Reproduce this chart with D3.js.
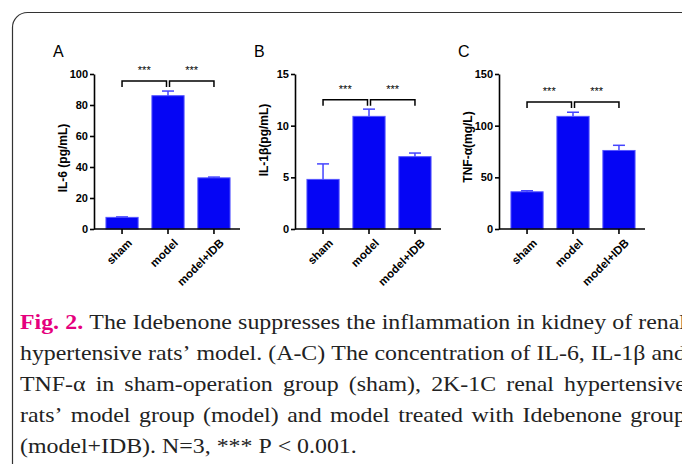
<!DOCTYPE html>
<html>
<head>
<meta charset="utf-8">
<script src="https://d3js.org/d3.v7.min.js"></script>
<style>
body { margin: 0; background: #fff; }
svg { display: block; }
.tick text { font-family: "Liberation Sans", Arial, sans-serif; font-weight: bold; font-size: 11px; fill: #000; }
</style>
</head>
<body>
<script>
// data
const groups = ["sham", "model", "model+IDB"];
const il6 = [7.5, 86, 33];
const il6Err = [0.3, 3, 0.5];
const il1b = [4.8, 10.9, 7.0];
const il1bErr = [1.5, 0.7, 0.35];
const tnf = [36, 109, 76];
const tnfErr = [1, 4, 5];
const il6Ticks = [0, 20, 40, 60, 80, 100];
const il1bTicks = [0, 5, 10, 15];
const tnfTicks = [0, 50, 100, 150];
const sigLevel = [95.5, 12.5, 123];
const captionLines = [
  "The Idebenone suppresses the inflammation in kidney of renal",
  "hypertensive rats’ model. (A-C) The concentration of IL-6, IL-1β and",
  "TNF-α in sham-operation group (sham), 2K-1C renal hypertensive",
  "rats’ model group (model) and model treated with Idebenone group",
  "(model+IDB). N=3, *** P < 0.001."
];

const W = 682, H = 464;
const svg = d3.select("body").append("svg").attr("width", W).attr("height", H);

// rounded frame, runs off the right and bottom
svg.append("rect")
  .attr("x", 12.5).attr("y", 12.5)
  .attr("width", 720).attr("height", 500)
  .attr("rx", 15)
  .attr("fill", "none").attr("stroke", "#333").attr("stroke-width", 1.2);

const panels = [
  {letter: "A", x0: 94, vals: il6, errs: il6Err, ticks: il6Ticks, max: 100, label: "IL-6 (pg/mL)", labelY: 158, sig: sigLevel[0]},
  {letter: "B", x0: 295, vals: il1b, errs: il1bErr, ticks: il1bTicks, max: 15, label: "IL-1β(pg/mL)", labelY: 140, sig: sigLevel[1]},
  {letter: "C", x0: 499, vals: tnf, errs: tnfErr, ticks: tnfTicks, max: 150, label: "TNF-α(mg/L)", labelY: 147, sig: sigLevel[2]}
];

const yTop = 74, yBot = 229;
const sans = "Liberation Sans, Arial, sans-serif";

panels.forEach(p => {
  const g = svg.append("g");
  const x = d3.scaleBand().domain(groups).range([p.x0, p.x0 + 148]).paddingInner(0.3).paddingOuter(0.26);
  const y = d3.scaleLinear().domain([0, p.max]).range([yBot, yTop]);
  const cx = d => x(d) + x.bandwidth() / 2;

  // bars
  g.selectAll("rect.bar").data(groups).enter().append("rect")
    .attr("class", "bar")
    .attr("x", d => x(d))
    .attr("y", (d, i) => y(p.vals[i]))
    .attr("width", x.bandwidth())
    .attr("height", (d, i) => yBot - y(p.vals[i]))
    .attr("fill", "#0505f5")
    .attr("stroke", "#5555ff").attr("stroke-width", 1);

  // error bars (upper only)
  const eb = g.selectAll("g.err").data(groups).enter().append("g")
    .attr("stroke", "#4444ff").attr("stroke-width", 1.5);
  eb.append("line")
    .attr("x1", d => cx(d)).attr("x2", d => cx(d))
    .attr("y1", (d, i) => y(p.vals[i])).attr("y2", (d, i) => y(p.vals[i] + p.errs[i]));
  eb.append("line")
    .attr("x1", d => cx(d) - 6).attr("x2", d => cx(d) + 6)
    .attr("y1", (d, i) => y(p.vals[i] + p.errs[i])).attr("y2", (d, i) => y(p.vals[i] + p.errs[i]));

  // y axis
  const ya = g.append("g").attr("transform", `translate(${p.x0},0)`)
    .call(d3.axisLeft(y).tickValues(p.ticks).tickSize(4).tickPadding(2).tickSizeOuter(0));
  ya.select(".domain").attr("stroke", "#000").attr("stroke-width", 1.6);
  ya.selectAll(".tick line").attr("stroke", "#000").attr("stroke-width", 1.6);

  // x axis
  const xa = g.append("g").attr("transform", `translate(0,${yBot})`)
    .call(d3.axisBottom(x).tickSize(5).tickSizeOuter(0).tickFormat(""));
  xa.select(".domain").attr("stroke", "#000").attr("stroke-width", 1.6)
    .attr("d", `M${p.x0},0H${p.x0 + 146}`);
  xa.selectAll(".tick line").attr("stroke", "#000").attr("stroke-width", 1.6);

  g.selectAll("text.xl").data(groups).enter().append("text")
    .attr("transform", d => `translate(${cx(d) + 5},${yBot + 9}) rotate(-45)`)
    .attr("text-anchor", "end")
    .attr("dy", "0.7em")
    .style("font-family", sans)
    .style("font-weight", "bold").style("font-size", "11.5px")
    .text(d => d);

  // y label
  g.append("text")
    .attr("transform", `translate(${p.x0 - 27},${p.labelY}) rotate(-90)`)
    .attr("text-anchor", "middle")
    .style("font-family", sans)
    .style("font-weight", "bold").style("font-size", "12px")
    .text(p.label);

  // panel letter
  g.append("text")
    .attr("x", p.x0 - 41).attr("y", 57)
    .style("font-family", sans)
    .style("font-size", "16px")
    .text(p.letter);

  // significance brackets
  const by = y(p.sig);
  const pairs = [[0, 1], [1, 2]];
  pairs.forEach(([a, b], k) => {
    const xa1 = cx(groups[a]) + (k === 1 ? 1.5 : 0);
    const xb1 = cx(groups[b]) - (k === 0 ? 1.5 : 0);
    g.append("path")
      .attr("d", `M${xa1},${by + 6}V${by}H${xb1}V${by + 6}`)
      .attr("fill", "none").attr("stroke", "#000").attr("stroke-width", 1.5);
    g.append("text")
      .attr("x", (xa1 + xb1) / 2).attr("y", by - 7)
      .attr("text-anchor", "middle")
      .style("font-family", sans)
      .style("font-size", "11px")
      .text("***");
  });
});

// caption, justified to a right edge that falls off the page
const capX = 20, capRight = 686, capY0 = 329, capStep = 31;
const capFont = "Liberation Serif, Times New Roman, serif";
const capSize = 22, capStretch = 1.085;
const cap = svg.append("g").style("font-family", capFont).style("font-size", capSize + "px").attr("fill", "#222");

captionLines.forEach((line, li) => {
  let words = line.split(" ").map(w => ({t: w, bold: false}));
  if (li === 0) words = [{t: "Fig.", bold: true}, {t: "2.", bold: true}].concat(words);
  const ty = capY0 + li * capStep;
  const els = words.map(w => {
    const t = cap.append("text").text(w.t);
    if (w.bold) t.attr("fill", "#e5007d").style("font-weight", "bold");
    return t;
  });
  const widths = els.map(e => e.node().getComputedTextLength() * capStretch);
  const total = d3.sum(widths);
  const space = capSize * 0.25 * capStretch;
  const gap = li < 4 ? (capRight - capX - total) / (words.length - 1) : space;
  let xx = capX;
  els.forEach((e, i) => {
    e.attr("transform", `translate(${xx},${ty}) scale(${capStretch},1)`);
    xx += widths[i] + gap;
  });
});
</script>
</body>
</html>
